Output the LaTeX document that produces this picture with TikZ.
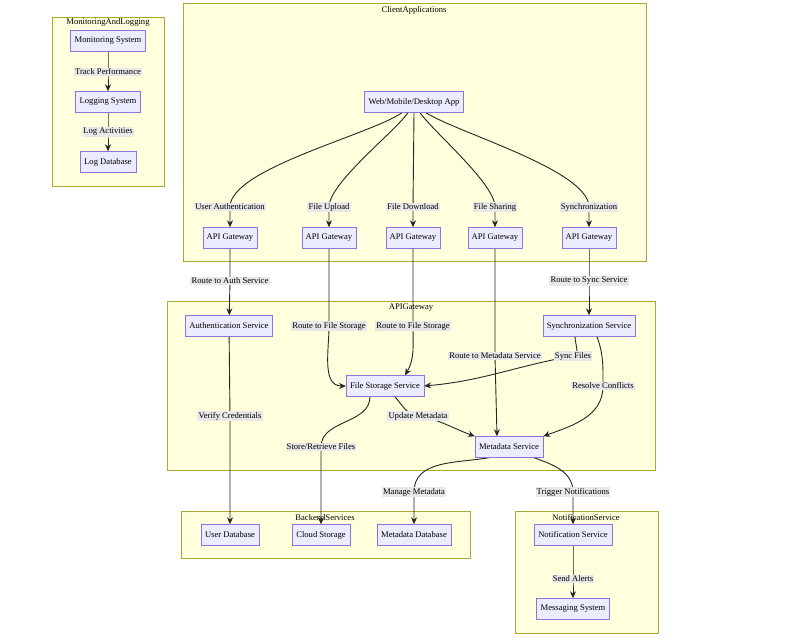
\documentclass[tikz,border=0pt]{standalone}
\usepackage{fontspec}
\setmainfont{Liberation Serif}
\usetikzlibrary{arrows.meta}
\definecolor{cl}{HTML}{FFFFDE}\definecolor{clb}{HTML}{AAAA33}
\definecolor{nd}{HTML}{ECECFF}\definecolor{ndb}{HTML}{9370DB}
\definecolor{lb}{HTML}{E8E8E8}
\pgfdeclarelayer{bg}\pgfdeclarelayer{ed}\pgfsetlayers{bg,ed,main}
\begin{document}
\begin{tikzpicture}[x=1pt,y=-1pt,font=\fontsize{8.6}{10}\selectfont,
 box/.style={draw=ndb,fill=nd,minimum height=21,inner xsep=4},
 lab/.style={fill=lb,inner sep=1.2},
 clu/.style={draw=clb,fill=cl},
 arr/.style={draw=black!85,line width=0.9pt,-{Stealth[length=7,width=6]}},
 dg/.style={out=#1,in=90,looseness=0.5}]
\useasboundingbox (0,0) rectangle (800,639);
\begin{pgfonlayer}{bg}
\draw[clu] (52,17) rectangle (164,186); \node at (108,22) {MonitoringAndLogging};
\draw[clu] (183,3) rectangle (646,261); \node at (414,10) {ClientApplications};
\draw[clu] (167,301) rectangle (655,470); \node at (411,308) {APIGateway};
\draw[clu] (181,511) rectangle (470,558); \node at (325,518) {BackendServices};
\draw[clu] (515,511) rectangle (658,633); \node at (586,518) {NotificationService};
\end{pgfonlayer}
\node[box] (mon) at (108,41) {Monitoring System};
\node[box] (log) at (108,102) {Logging System};
\node[box] (ldb) at (108,162) {Log Database};
\node[box] (app) at (414,102) {Web/Mobile/Desktop App};
\foreach \i/\x in {1/230,2/329,3/413,4/495,5/589} \node[box] (g\i) at (\x,238) {API Gateway};
\node[box] (auth) at (229,326) {Authentication Service};
\node[box] (sync) at (589,326) {Synchronization Service};
\node[box] (fs) at (385,386) {File Storage Service};
\node[box] (md) at (509,447) {Metadata Service};
\node[box] (udb) at (230,535) {User Database};
\node[box] (cs) at (321,535) {Cloud Storage};
\node[box] (mdb) at (414,535) {Metadata Database};
\node[box] (ns) at (573,535) {Notification Service};
\node[box] (ms) at (573,609) {Messaging System};
\node[lab] (l1) at (108,72) {Track Performance};
\node[lab] (l2) at (108,132) {Log Activities};
\node[lab] (a1) at (230,207) {User Authentication};
\node[lab] (a2) at (329,207) {File Upload};
\node[lab] (a3) at (413,207) {File Download};
\node[lab] (a4) at (495,207) {File Sharing};
\node[lab] (a5) at (589,207) {Synchronization};
\node[lab] (r1) at (230,281) {Route to Auth Service};
\node[lab] (r2) at (329,326) {Route to File Storage};
\node[lab] (r3) at (413,326) {Route to File Storage};
\node[lab] (r4) at (495,356) {Route to Metadata Service};
\node[lab] (r5) at (589,281) {Route to Sync Service};
\node[lab] (sf) at (573,356) {Sync Files};
\node[lab] (rc) at (603,386) {Resolve Conflicts};
\node[lab] (vc) at (230,416) {Verify Credentials};
\node[lab] (sr) at (321,447) {Store/Retrieve Files};
\node[lab] (um) at (418,416) {Update Metadata};
\node[lab] (mm) at (414,492) {Manage Metadata};
\node[lab] (tn) at (573,492) {Trigger Notifications};
\node[lab] (sa) at (573,579) {Send Alerts};
\begin{pgfonlayer}{ed}
\draw[arr] (mon) -- (l1.center) -- (log);
\draw[arr] (log) -- (l2.center) -- (ldb);
\draw[arr] ([xshift=-12]app.south) to[dg=-145] (a1.center) -- (g1);
\draw[arr] ([xshift=-6]app.south) to[dg=-125] (a2.center) -- (g2);
\draw[arr] (app.south) -- (a3.center) -- (g3);
\draw[arr] ([xshift=6]app.south) to[dg=-55] (a4.center) -- (g4);
\draw[arr] ([xshift=12]app.south) to[dg=-33] (a5.center) -- (g5);
\draw[arr] (g1) -- (r1.center) -- (auth);
\draw[arr] (g2) -- (r2.center) to[out=-90,in=180] (fs.west);
\draw[arr] (g3) -- (r3.center) to[out=-90,in=60] ([xshift=20]fs.north);
\draw[arr] (g4) -- (r4.center) -- ([xshift=-12]md.north);
\draw[arr] (g5) -- (r5.center) -- (sync);
\draw[arr] ([xshift=-14]sync.south) to[out=-90,in=10] (sf.center) to[out=190,in=5] (fs.east);
\draw[arr] ([xshift=8]sync.south) to[out=-70,in=90] (rc.center) to[out=-90,in=20] (md.north east);
\draw[arr] (auth) -- (vc.center) -- (udb);
\draw[arr] ([xshift=-15]fs.south) to[out=-90,in=90] (sr.center) -- (cs);
\draw[arr] ([xshift=10]fs.south) to[out=-50,in=170] (um.center) to[out=-10,in=160] (md.north west);
\draw[arr] ([xshift=-20]md.south) to[out=-170,in=90] (mm.center) -- (mdb);
\draw[arr] ([xshift=25]md.south) to[out=-20,in=90] (tn.center) -- (ns);
\draw[arr] (ns) -- (sa.center) -- (ms);
\end{pgfonlayer}
\end{tikzpicture}
\end{document}
